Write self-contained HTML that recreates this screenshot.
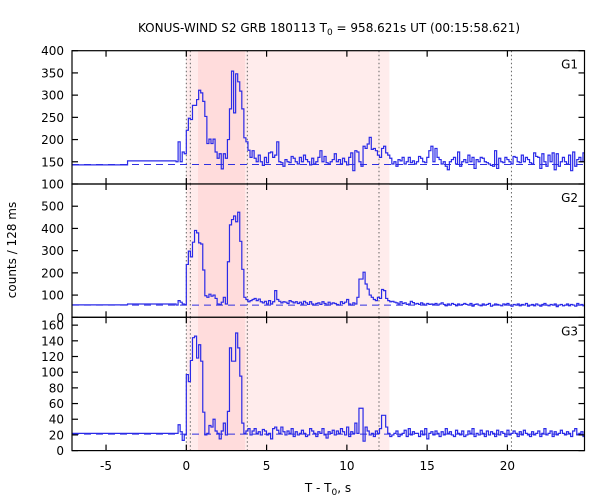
<!DOCTYPE html>
<html><head><meta charset="utf-8"><style>
html,body{margin:0;padding:0;background:#fff}
svg{display:block;font-family:"DejaVu Sans","Liberation Sans",sans-serif;font-size:12px}
</style></head><body>
<svg id="chart" width="600" height="500" viewBox="0 0 600 500" xmlns="http://www.w3.org/2000/svg">
<text x="329" y="32" text-anchor="middle">KONUS-WIND S2 GRB 180113 T<tspan font-size="9" dy="3">0</tspan><tspan dy="-3"> = 958.621s UT (00:15:58.621)</tspan></text>
<text x="328" y="492" text-anchor="middle">T - T<tspan font-size="9" dy="3">0</tspan><tspan dy="-3">, s</tspan></text>
<text x="16" y="250" text-anchor="middle" transform="rotate(-90 16 250)">counts / 128 ms</text>
<g id="plots"></g>
</svg>
<script>
const xTicks=[-5,0,5,10,15,20];
const binStart=-0.64, binWidth=0.128;
const vLines=[0.0,0.25,3.8,12.0,20.25];
const darkSpan=[0.73,3.66];
const lightSpan=[0.0,12.65];
const panelNames=["G1","G2","G3"];
const yMin=[100,0,0], yMax=[400,600,170];
const yTicksG1=[100,150,200,250,300,350,400];
const yTicksG2=[0,100,200,300,400,500];
const yTicksG3=[0,20,40,60,80,100,120,140,160];
const bgLevel=[144,55,21];
const preStartG1=[-7.1,-3.66], preEndG1=[-3.66,-0.64], preValG1=[143,152];
const preStartG2=[-7.1,-3.66], preEndG2=[-3.66,-0.64], preValG2=[56,60];
const preStartG3=[-7.1,-3.66], preEndG3=[-3.66,-0.64], preValG3=[22,22];
const countsG1=[150,195,150,172,168,
221,248,245,277,277,290,311,305,286,252,191,201,191,201,172,158,168,134,168,158,200,269,354,260,348,330,309,269,204,195,176,160,
175,158,150,165,150,142,160,148,170,172,160,165,195,150,148,140,155,150,148,162,158,150,145,160,
150,165,155,150,143,158,145,150,160,175,150,162,148,145,150,155,168,150,155,145,158,150,143,160,
170,130,175,172,150,140,185,180,190,205,178,180,175,165,160,180,185,170,165,158,145,150,140,155,
152,160,145,150,160,148,152,145,150,162,158,150,148,160,175,185,150,180,160,155,145,150,140,132,
150,155,160,145,172,140,150,155,148,165,150,160,135,155,150,160,158,150,148,145,142,140,175,135,
158,150,148,160,155,150,145,162,160,150,148,165,150,160,155,148,145,170,162,160,135,168,150,140,
165,150,170,132,168,140,150,160,150,145,165,130,172,140,155,160,150,170,140,172,150,165];
const countsG2=[55,75,68,60,58,
238,298,272,338,391,380,335,330,213,97,90,104,95,100,85,60,58,68,90,60,250,416,440,456,430,473,342,216,90,80,70,75,
80,85,75,82,70,65,72,60,75,60,70,120,80,72,65,70,68,62,75,70,65,70,62,68,
60,72,65,58,70,60,55,62,65,58,70,62,55,68,60,65,62,58,55,70,62,68,80,60,
55,65,60,90,172,172,203,150,127,100,90,80,75,90,85,125,120,85,75,70,72,68,65,60,
70,62,65,58,60,72,66,60,62,58,65,60,55,62,58,60,58,62,55,60,65,58,52,60,
55,62,58,52,60,55,58,62,58,55,62,50,58,60,55,52,60,55,58,62,50,55,60,58,
55,52,60,58,62,55,50,58,55,60,52,58,55,62,50,55,58,52,60,55,50,58,62,55,
52,58,55,60,48,55,58,52,55,60,52,58,55,50,62,55,58,52,60,55,62,58];
const countsG3=[22,33,24,13,20,
97,88,115,144,146,118,135,114,49,20,22,32,30,40,25,22,15,25,35,20,50,131,114,114,150,131,95,35,22,25,28,20,
25,28,22,24,20,27,25,20,22,15,28,30,26,22,30,24,20,25,22,28,18,24,20,22,
26,22,18,20,28,25,22,18,24,22,28,20,16,24,22,26,20,25,22,28,24,20,30,18,
24,22,35,22,54,54,12,30,25,20,22,18,25,22,28,45,45,30,22,18,20,22,25,18,
20,22,26,18,28,20,24,22,22,18,25,20,28,15,22,24,20,25,22,18,24,20,28,22,
24,20,18,26,22,20,25,18,20,25,22,28,18,22,20,26,22,18,25,20,24,22,18,26,
20,24,22,18,26,20,22,25,22,18,24,20,26,22,20,18,24,20,22,25,18,22,28,20,
22,25,18,24,20,22,26,22,20,24,22,18,25,28,20,22,24,18,26,22,20,28];

const NS="http://www.w3.org/2000/svg";
const X0=72, X1=584.5, tMin=-7.12, tMax=24.8;
const panelTop=[50.7,184,317.3], panelH=133.3;
function xs(t){return X0+(t-tMin)/(tMax-tMin)*(X1-X0);}
function ys(p,v){const c=Math.max(yMin[p],Math.min(yMax[p],v));return panelTop[p]+panelH-(c-yMin[p])/(yMax[p]-yMin[p])*panelH;}
function mk(tag,attrs,parent){const e=document.createElementNS(NS,tag);for(const k in attrs)e.setAttribute(k,attrs[k]);parent.appendChild(e);return e;}
const root=document.getElementById('plots');
const allCounts=[countsG1,countsG2,countsG3];
const preS=[preStartG1,preStartG2,preStartG3],preE=[preEndG1,preEndG2,preEndG3],preV=[preValG1,preValG2,preValG3];
const yTicksAll=[yTicksG1,yTicksG2,yTicksG3];
for(let p=0;p<3;p++){
  const g=mk('g',{},root);
  
  
  const top=panelTop[p],bot=top+panelH;
  const clipId='clip'+p;
  const cp=mk('clipPath',{id:clipId},g);mk('rect',{x:X0,y:top,width:X1-X0,height:panelH},cp);
  const ls=mk('rect',{x:xs(lightSpan[0]),y:top,width:xs(lightSpan[1])-xs(lightSpan[0]),height:panelH,fill:'#ffecec'},g);
  
  
  const ds=mk('rect',{x:xs(darkSpan[0]),y:top,width:xs(darkSpan[1])-xs(darkSpan[0]),height:panelH,fill:'#ffdcdc'},g);
  
  
  for(const t of vLines){
    const l=mk('line',{x1:xs(t),x2:xs(t),y1:top,y2:bot,stroke:'#666','stroke-width':1,'stroke-dasharray':'1.5,2.5'},g);
    
    
  }
  const bl=mk('line',{x1:X0,x2:X1,y1:ys(p,bgLevel[p]),y2:ys(p,bgLevel[p]),stroke:'#3030e0','stroke-width':1,'stroke-dasharray':'7,5'},g);
  
  
  let d='';
  for(let i=0;i<preS[p].length;i++){
    const y=ys(p,preV[p][i]);
    d+=(i===0?'M':'L')+xs(preS[p][i])+','+y+' L'+xs(preE[p][i])+','+y+' ';
  }
  const c=allCounts[p];
  for(let i=0;i<c.length;i++){
    const y=ys(p,c[i]);
    d+='L'+xs(binStart+i*binWidth)+','+y+' L'+xs(binStart+(i+1)*binWidth)+','+y+' ';
  }
  const path=mk('path',{d:d,fill:'none',stroke:'#2a2ae8','stroke-width':1.2,'clip-path':'url(#'+clipId+')'},g);
  
  
  const fr=mk('rect',{x:X0,y:top,width:X1-X0,height:panelH,fill:'none',stroke:'#000','stroke-width':1.2},g);
  
  
  for(const t of xTicks){
    mk('line',{x1:xs(t),x2:xs(t),y1:top,y2:top+6,stroke:'#000','stroke-width':1.2},g);
    mk('line',{x1:xs(t),x2:xs(t),y1:bot,y2:bot-6,stroke:'#000','stroke-width':1.2},g);
  }
  for(const v of yTicksAll[p]){
    const y=ys(p,v);
    mk('line',{x1:X0,x2:X0+6,y1:y,y2:y,stroke:'#000','stroke-width':1.2},g);
    mk('line',{x1:X1,x2:X1-6,y1:y,y2:y,stroke:'#000','stroke-width':1.2},g);
    if(p>0 && v===yMax[p-0] ) continue;
    if(p<2 && v===yMin[p] && p===0){}
    const tl=mk('text',{x:X0-8,y:y+4.5,'text-anchor':'end'},g);
    tl.textContent=v;
    
    
  }
  const lab=mk('text',{x:578,y:top+18,'text-anchor':'end'},g);
  lab.textContent=panelNames[p];
  
  
}
for(const t of xTicks){
  const tl=mk('text',{x:xs(t),y:470,'text-anchor':'middle'},root);
  tl.textContent=t;
  
  
}
</script>
</body></html>
